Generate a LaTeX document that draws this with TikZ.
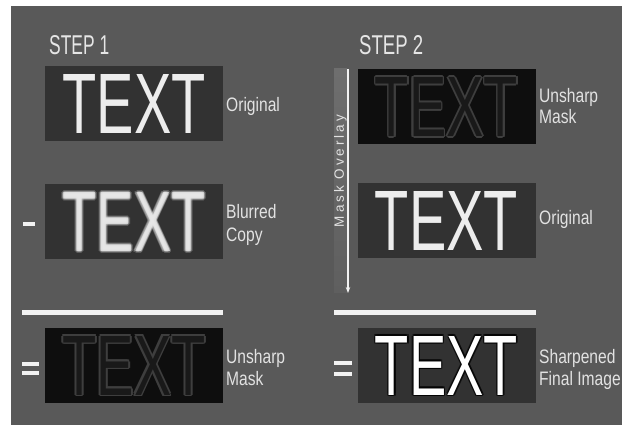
\documentclass[tikz,border=0pt]{standalone}
\usepackage{fontspec}
\setmainfont{Liberation Sans}
\usetikzlibrary{arrows.meta}
\definecolor{bggray}{HTML}{595959}
\definecolor{boxgray}{HTML}{323232}
\definecolor{boxblack}{HTML}{0E0E0E}
\definecolor{edgegray}{HTML}{3E3E3E}
\definecolor{innergray}{HTML}{191919}
\definecolor{txtwhite}{HTML}{EDEDED}
\definecolor{labgray}{HTML}{E2E2E2}
\definecolor{steptxt}{HTML}{E6E6E6}
\definecolor{linewhite}{HTML}{F2F2F2}
\definecolor{bartop}{HTML}{6E6E6E}
\definecolor{barbot}{HTML}{5F5F5F}
\newcommand{\bigword}{\resizebox{143pt}{59pt}{TEXT}}
\newcommand{\lbl}[1]{\scalebox{0.8}[1]{\fontsize{19.5}{22}\selectfont #1}}
\begin{document}
\begin{tikzpicture}[x=1pt,y=-1pt,
  imgbox/.style={minimum width=178pt, minimum height=75pt, inner sep=0pt, draw=none},
  lab/.style={anchor=base west, inner sep=0pt, text=labgray},
  word/.style={inner sep=0pt, outer sep=0pt},
  steplab/.style={anchor=south west, inner sep=0pt, text=steptxt},
  rulebar/.style={draw=linewhite, line width=5pt},
  signbar/.style={fill=linewhite}
]
\useasboundingbox (0,0) rectangle (622,425);
\fill[white] (0,0) rectangle (622,425);
\fill[bggray] (11,6) rectangle (622,425);

% step titles
\node[steplab] (s1) at (49,55) {\resizebox{60pt}{19pt}{STEP 1}};
\node[steplab] (s2) at (359,55) {\resizebox{64pt}{19pt}{STEP 2}};

% boxes
\node[imgbox, fill=boxgray]  (b1) at (134,103.5) {};
\node[imgbox, fill=boxgray]  (b2) at (134,222) {};
\node[imgbox, fill=boxblack] (b3) at (134,365.5) {};
\node[imgbox, fill=boxblack] (b4) at (446.5,107) {};
\node[imgbox, fill=boxgray]  (b5) at (446.5,220.5) {};
\node[imgbox, fill=boxgray]  (b6) at (446.5,365.5) {};

% original words
\node[word, text=txtwhite] (w1) at (b1) {\bigword};
\node[word, text=txtwhite] (w5) at (b5) {\bigword};

% blurred word
\foreach \dx/\dy [count=\i] in {1.8/0,-1.8/0,0/1.8,0/-1.8,1.3/1.3,-1.3/1.3,1.3/-1.3,-1.3/-1.3}
  \node[word, text=txtwhite, opacity=0.22, xshift=\dx pt, yshift=\dy pt] (w2r\i) at (b2) {\bigword};
\node[word, text=txtwhite, opacity=0.75] (w2) at (b2) {\bigword};

% unsharp mask words (edges only)
\foreach \bx in {b3,b4}{
  \foreach \dx/\dy [count=\i] in {1.8/0,-1.8/0,0/1.8,0/-1.8,1.3/1.3,-1.3/1.3,1.3/-1.3,-1.3/-1.3}
    \node[word, text=edgegray, xshift=\dx pt, yshift=\dy pt] (\bx r\i) at (\bx) {\bigword};
  \node[word, text=innergray] (\bx w) at (\bx) {\bigword};
}

% sharpened word
\foreach \dx/\dy [count=\i] in {1.5/0,-1.5/0,0/1.5,0/-1.5,1.05/1.05,-1.05/1.05,1.05/-1.05,-1.05/-1.05}
  \node[word, text=black, opacity=0.55, xshift=\dx pt, yshift=\dy pt] (w6r\i) at (b6) {\bigword};
\node[word, text=white] (w6) at (b6) {\bigword};

% labels
\node[lab] (l1)  at (226,112) {\lbl{Original}};
\node[lab] (l2a) at (226,219) {\lbl{Blurred}};
\node[lab] (l2b) at (226,242) {\lbl{Copy}};
\node[lab] (l3a) at (226,363) {\lbl{Unsharp}};
\node[lab] (l3b) at (226,385) {\lbl{Mask}};
\node[lab] (l4a) at (539,103) {\lbl{Unsharp}};
\node[lab] (l4b) at (539,124) {\lbl{Mask}};
\node[lab] (l5)  at (539,225) {\lbl{Original}};
\node[lab] (l6a) at (539,363) {\lbl{Sharpened}};
\node[lab] (l6b) at (539,385) {\lbl{Final Image}};

% minus / equals signs
\fill[signbar] (23,222) rectangle (35,226);
\fill[signbar] (22,362) rectangle (39,366);
\fill[signbar] (22,371) rectangle (39,375);
\fill[signbar] (334,361) rectangle (352,365);
\fill[signbar] (334,372) rectangle (352,376);

% rules
\coordinate (r1a) at (22,312.5);
\coordinate (r1b) at (223,312.5);
\coordinate (r2a) at (334,312.5);
\coordinate (r2b) at (536,312.5);
\draw[rulebar] (r1a) -- (r1b);
\draw[rulebar] (r2a) -- (r2b);

% mask overlay bar
\shade[top color=bartop, bottom color=barbot] (334,69) rectangle (347,293);
\node[rotate=90, inner sep=0pt, text=labgray,
      font=\fontsize{13.5}{14}\selectfont\addfontfeature{LetterSpace=22}] (mo) at (340.5,171) {Mask Overlay};
\coordinate (ot) at (348,69);
\coordinate (ob) at (348,293);
\draw[linewhite, line width=1.2pt, -{Stealth[length=6pt,width=4.5pt]}] (ot) -- (ob);
\end{tikzpicture}
\end{document}
